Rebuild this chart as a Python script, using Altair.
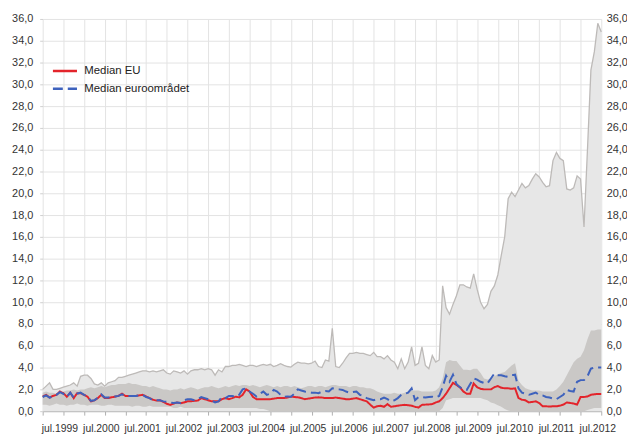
import altair as alt
import pandas as pd

# Monthly values, January 1999 - July 2012 (one list entry per year)
max_years = [
    [2.0, 2.3, 2.6, 2.0, 2.0, 2.1, 2.2, 2.3, 2.4, 2.6, 2.3, 3.2],
    [3.3, 3.3, 3.0, 2.5, 2.4, 2.6, 2.3, 2.6, 2.7, 2.8, 3.1, 3.1],
    [3.2, 3.3, 3.4, 3.5, 3.6, 3.7, 3.7, 3.6, 3.7, 3.6, 3.7, 3.8],
    [3.5, 3.4, 3.7, 3.6, 3.5, 3.7, 3.4, 3.7, 3.8, 3.8, 3.9, 3.8],
    [3.9, 3.8, 3.3, 3.8, 3.6, 4.1, 4.1, 4.2, 4.2, 4.3, 4.2, 4.1],
    [4.2, 4.2, 4.1, 4.2, 4.3, 4.2, 4.3, 4.1, 4.2, 4.35, 4.2, 4.1],
    [4.05, 4.3, 4.5, 4.4, 4.4, 4.35, 4.4, 4.6, 4.1, 4.0, 4.7, 4.6],
    [7.6, 4.1, 4.0, 4.4, 4.9, 5.3, 5.3, 5.4, 5.3, 5.3, 5.2, 5.1],
    [5.4, 5.0, 5.0, 4.8, 5.1, 4.7, 4.5, 3.9, 4.8, 3.9, 4.5, 5.9],
    [4.2, 4.4, 5.9, 4.2, 3.9, 5.1, 4.5, 4.7, 11.5, 9.5, 8.9, 9.8],
    [10.6, 11.6, 11.6, 11.4, 11.3, 12.6, 11.2, 10.0, 9.4, 9.8, 11.0, 11.5],
    [12.5, 14.3, 16.0, 19.5, 20.1, 19.7, 20.3, 20.9, 20.5, 20.7, 21.3, 21.8],
    [21.5, 21.0, 20.6, 20.7, 23.0, 23.75, 23.2, 23.0, 20.4, 20.3, 20.5, 21.6],
    [21.3, 16.9, 24.0, 31.3, 33.0, 35.6, 34.8],
]
hi_years = [
    [1.7, 1.8, 1.7, 1.7, 1.6, 1.7, 1.8, 1.9, 1.9, 2.0, 1.9, 2.0],
    [2.0, 2.1, 2.2, 2.1, 2.2, 2.3, 2.2, 2.3, 2.4, 2.4, 2.5, 2.5],
    [2.5, 2.6, 2.5, 2.5, 2.4, 2.3, 2.3, 2.2, 2.3, 2.2, 2.1, 2.0],
    [2.0, 1.9, 2.0, 2.0, 2.1, 2.0, 2.1, 2.2, 2.1, 2.0, 2.1, 2.2],
    [2.2, 2.3, 2.2, 2.1, 2.2, 2.3, 2.2, 2.3, 2.4, 2.3, 2.4, 2.4],
    [2.3, 2.4, 2.3, 2.2, 2.3, 2.4, 2.3, 2.2, 2.3, 2.2, 2.3, 2.3],
    [2.2, 2.3, 2.2, 2.1, 2.2, 2.3, 2.3, 2.2, 2.3, 2.3, 2.2, 2.3],
    [2.4, 2.4, 2.3, 2.3, 2.3, 2.2, 2.3, 2.3, 2.2, 2.2, 2.1, 2.1],
    [2.0, 1.8, 1.7, 1.6, 1.6, 1.6, 1.7, 1.6, 1.6, 1.7, 1.8, 1.9],
    [1.9, 1.9, 1.8, 1.8, 1.8, 1.8, 1.9, 2.2, 3.0, 4.5, 4.7, 4.6],
    [4.6, 4.2, 3.8, 3.8, 3.75, 3.9, 3.9, 3.5, 3.0, 2.9, 3.0, 3.2],
    [3.4, 3.5, 3.6, 3.9, 4.2, 4.4, 2.8, 2.4, 2.1, 2.0, 1.9, 1.9],
    [1.9, 1.8, 1.8, 1.8, 1.8, 2.0, 2.3, 2.7, 3.3, 3.9, 4.5, 4.8],
    [5.0, 5.6, 6.6, 7.4, 7.4, 7.5, 7.5],
]
lo_years = [
    [0.6, 0.6, 0.5, 0.6, 0.7, 0.6, 0.6, 0.5, 0.6, 0.6, 0.7, 0.6],
    [0.6, 0.5, 0.6, 0.6, 0.6, 0.5, 0.5, 0.6, 0.6, 0.5, 0.5, 0.5],
    [0.5, 0.5, 0.4, 0.5, 0.5, 0.4, 0.4, 0.5, 0.4, 0.4, 0.4, 0.4],
    [0.4, 0.4, 0.3, 0.3, 0.4, 0.3, 0.3, 0.3, 0.3, 0.3, 0.3, 0.3],
    [0.3, 0.3, 0.3, 0.3, 0.3, 0.3, 0.3, 0.3, 0.3, 0.3, 0.3, 0.3],
    [0.3, 0.3, 0.3, 0.2, 0.2, 0.1, 0.0, 0.0, 0.0, 0.0, 0.0, 0.0],
    [0.0, 0.0, 0.0, 0.0, 0.0, 0.0, 0.0, 0.0, 0.0, 0.0, 0.0, 0.0],
    [0.0, 0.0, 0.0, 0.0, 0.0, 0.0, 0.0, 0.0, 0.0, 0.0, 0.0, 0.0],
    [0.0, 0.0, 0.0, 0.0, 0.0, 0.0, 0.0, 0.0, 0.0, 0.0, 0.0, 0.0],
    [0.0, 0.0, 0.0, 0.0, 0.0, 0.0, 0.0, 0.0, 0.3, 1.0, 1.1, 1.2],
    [1.2, 1.2, 1.2, 1.2, 1.2, 1.2, 1.2, 1.2, 1.1, 1.0, 0.8, 0.7],
    [0.55, 0.4, 0.2, 0.05, 0.0, 0.0, 0.0, 0.0, 0.0, 0.0, 0.0, 0.0],
    [0.0, 0.0, 0.0, 0.0, 0.0, 0.0, 0.0, 0.0, 0.0, 0.0, 0.0, 0.0],
    [0.0, 0.0, 0.1, 0.2, 0.3, 0.3, 0.3],
]
eu_years = [
    [1.33, 1.5, 1.25, 1.4, 1.5, 1.8, 1.65, 1.33, 1.7, 1.2, 1.65, 1.65],
    [1.5, 1.33, 0.9, 1.0, 1.2, 1.5, 1.2, 1.2, 1.27, 1.33, 1.4, 1.6],
    [1.4, 1.4, 1.4, 1.4, 1.45, 1.5, 1.35, 1.2, 1.05, 0.97, 1.0, 0.85],
    [0.67, 0.58, 0.7, 0.8, 0.73, 0.8, 0.9, 0.9, 0.95, 0.97, 1.2, 1.1],
    [1.0, 0.9, 0.9, 0.9, 1.1, 1.2, 1.1, 1.2, 1.33, 1.27, 1.5, 2.0],
    [1.8, 1.3, 1.1, 1.1, 1.1, 1.1, 1.1, 1.15, 1.2, 1.2, 1.2, 1.25],
    [1.33, 1.3, 1.27, 1.2, 1.1, 1.15, 1.2, 1.25, 1.27, 1.25, 1.2, 1.2],
    [1.2, 1.25, 1.2, 1.15, 1.1, 1.1, 1.15, 1.2, 1.1, 1.0, 0.9, 0.6],
    [0.33, 0.45, 0.5, 0.4, 0.65, 0.4, 0.45, 0.5, 0.55, 0.58, 0.55, 0.5],
    [0.4, 0.33, 0.58, 0.6, 0.62, 0.65, 0.8, 0.9, 1.2, 1.6, 2.1, 2.6],
    [2.4, 2.2, 1.8, 1.6, 1.6, 2.55, 2.2, 2.05, 2.0, 2.0, 2.0, 2.2],
    [2.3, 2.15, 2.1, 2.1, 2.05, 2.1, 1.2, 1.05, 1.0, 0.8, 0.85, 0.9],
    [0.75, 0.45, 0.45, 0.42, 0.45, 0.45, 0.5, 0.6, 0.8, 0.75, 0.7, 0.6],
    [1.3, 1.3, 1.35, 1.5, 1.55, 1.58, 1.58],
]
euro_years = [
    [1.3, 1.45, 1.25, 1.35, 1.5, 1.75, 1.6, 1.3, 1.7, 1.25, 1.6, 1.7],
    [1.5, 1.35, 0.95, 1.0, 1.25, 1.55, 1.25, 1.25, 1.3, 1.35, 1.4, 1.55],
    [1.4, 1.4, 1.4, 1.4, 1.45, 1.5, 1.3, 1.2, 1.0, 1.0, 1.0, 0.9],
    [0.85, 0.8, 0.75, 0.8, 0.75, 1.0, 1.1, 1.1, 1.0, 1.1, 1.3, 1.2],
    [1.1, 1.0, 0.8, 0.9, 1.3, 1.2, 1.4, 1.4, 1.3, 1.5, 2.0, 2.1],
    [1.8, 1.6, 1.35, 1.6, 1.8, 1.5, 1.6, 1.95, 1.8, 1.5, 1.33, 1.35],
    [1.33, 1.6, 2.0, 1.9, 1.8, 1.75, 1.7, 1.7, 1.65, 1.8, 1.85, 1.8],
    [2.1, 2.05, 2.0, 1.95, 1.8, 1.7, 1.75, 1.8, 1.5, 1.4, 1.2, 1.1],
    [1.0, 1.1, 1.1, 1.25, 1.1, 0.9, 1.0, 1.2, 1.5, 1.6, 1.7, 2.1],
    [1.0, 1.3, 1.3, 1.25, 1.3, 1.33, 1.25, 1.4, 2.2, 3.25, 2.7, 3.35],
    [2.5, 2.2, 2.0, 1.95, 2.5, 3.0, 2.9, 2.7, 2.6, 2.55, 3.0, 3.45],
    [3.3, 3.3, 3.2, 3.15, 3.3, 3.35, 2.1, 1.7, 1.6, 1.5, 1.6, 1.7],
    [1.5, 1.45, 1.3, 1.25, 1.15, 1.1, 1.3, 1.5, 1.95, 1.85, 1.8, 2.7],
    [2.85, 2.85, 3.2, 3.9, 4.0, 4.0, 4.0],
]

first_year = 1999
series_names = ["Median EU", "Median euroområdet"]
series_colors = ["#e3242b", "#3e62bd"]
series_dashes = [[1, 0], [10, 5]]
y_ticks = list(range(0, 37, 2))

LIGHT = "#e7e7e7"
EDGE = "#bdbab8"
DARK = "#cac8c6"
GRID = "#e3e3e3"
FONT = "Liberation Sans"


def flat(years):
    return [v for yr in years for v in yr]


max_vals = flat(max_years)
hi_vals = flat(hi_years)
lo_vals = flat(lo_years)
eu_vals = flat(eu_years)
euro_vals = flat(euro_years)
n = len(max_vals)
months = list(range(n))
x_ticks = list(range(0, n, 6))

band_df = pd.DataFrame({"m": months, "maxv": max_vals, "hi": hi_vals, "lo": lo_vals})
line_df = pd.concat([
    pd.DataFrame({"m": months, "v": eu_vals, "serie": series_names[0]}),
    pd.DataFrame({"m": months, "v": euro_vals, "serie": series_names[1]}),
])

label_expr_y = "replace(format(datum.value, '.1f'), '.', ',')"
x_axis = alt.Axis(
    values=x_ticks, tickCount=len(x_ticks) + 5,
    labelExpr=f"datum.value % 12 == 6 ? 'jul.' + ({first_year} + floor(datum.value / 12)) : ''",
    grid=True, gridColor=GRID, gridWidth=1,
    tickSize=4, tickColor="#b0b0b0", domainColor="#b0b0b0",
    labelFlush=False, labelOverlap=False, labelPadding=9, labelOffset=-4,
    labelFontSize=10.5, labelColor="#333333", labelFont=FONT, title=None,
)
x_scale = alt.Scale(domain=[0, n - 1], nice=False, zero=False)
x_enc = alt.X("m:Q", scale=x_scale, axis=x_axis)
y_scale = alt.Scale(domain=[0, 36], nice=False, zero=True)
left_axis = alt.Axis(
    values=y_ticks, tickCount=len(y_ticks) + 5, labelExpr=label_expr_y,
    grid=True, gridColor=GRID, gridWidth=1,
    domain=False, tickSize=3, tickColor="#cfcfcf", labelPadding=7,
    labelFontSize=11, labelColor="#333333", labelFont=FONT, title=None,
)
right_axis = alt.Axis(
    orient="right", values=y_ticks, tickCount=len(y_ticks) + 5, labelExpr=label_expr_y,
    grid=False, domain=False, ticks=False, labelPadding=5,
    labelFontSize=11, labelColor="#333333", labelFont=FONT, title=None,
)

area_max = alt.Chart(band_df).mark_area(color=LIGHT).encode(
    x=x_enc, y=alt.Y("maxv:Q", scale=y_scale, axis=left_axis)
)
band = alt.Chart(band_df).mark_area(color=DARK).encode(
    x=x_enc, y=alt.Y("lo:Q", scale=y_scale, axis=None), y2="hi:Q"
)
edge = alt.Chart(band_df).mark_line(color=EDGE, strokeWidth=1.3).encode(
    x=x_enc, y=alt.Y("maxv:Q", scale=y_scale, axis=right_axis)
)

legend = alt.Legend(
    title=None, orient="none", legendX=12, legendY=42,
    symbolType="M-1.35,0H1.35", symbolSize=324, symbolStrokeWidth=2.5,
    labelFontSize=11.5, labelFont=FONT, labelColor="#222222",
    rowPadding=2, labelOffset=9, padding=0,
)
color_enc = alt.Color("serie:N", scale=alt.Scale(domain=series_names, range=series_colors), legend=legend)
dash_enc = alt.StrokeDash("serie:N", scale=alt.Scale(domain=series_names, range=series_dashes), legend=legend)

lines = []
for name in series_names:
    lines.append(
        alt.Chart(line_df).transform_filter(alt.datum.serie == name).mark_line(strokeWidth=2).encode(
            x=x_enc, y=alt.Y("v:Q", scale=y_scale, axis=None), color=color_enc, strokeDash=dash_enc
        )
    )

chart = alt.layer(area_max, band, edge, *lines).resolve_scale(y="independent").properties(
    width=564, height=396,
    autosize=alt.AutoSizeParams(type="none"),
    padding={"left": 35, "top": 9, "right": 26, "bottom": 23},
    background="white",
).configure_view(stroke=None)

chart.save("out.html", embed_options={"renderer": "svg", "actions": False})
